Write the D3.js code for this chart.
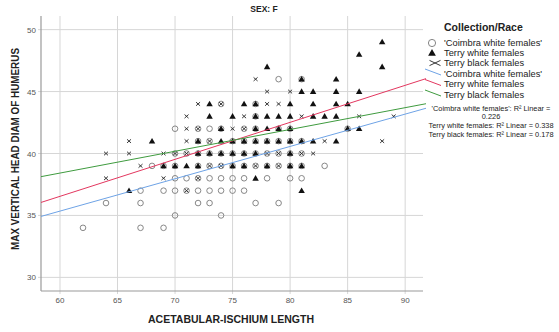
<!DOCTYPE html>
<html>
<head>
<meta charset="utf-8">
<script src="https://cdn.jsdelivr.net/npm/d3@7"></script>
<style>
  body { margin: 0; background: #fff; }
  svg text { font-family: "Liberation Sans", Arial, sans-serif; }
</style>
</head>
<body>
<svg id="chart" width="559" height="332"></svg>
<script>
// tick labels
const xTicks = [60, 65, 70, 75, 80, 85, 90];
const yTicks = [30, 35, 40, 45, 50];

// 'Coimbra white females' (open circles)
const coimbra = [
  [62,34],[64,36],[67,37],[67,36],[67,34],[68,39],[69,39],[69,37],[69,34],
  [70,42],[70,40],[70,39],[70,38],[70,37],[70,35],[71,40],[71,38],[71,37],
  [72,42],[72,41],[72,40],[72,39],[72,38],[72,37],[72,36],
  [73,42],[73,41],[73,40],[73,39],[73,38],[73,37],[73,36],
  [74,44],[74,42],[74,40],[74,39],[74,38],[74,37],[74,35],
  [75,41],[75,40],[75,39],[75,38],[75,37],
  [76,42],[76,41],[76,40],[76,39],[76,38],[76,37],
  [77,44],[77,43],[77,42],[77,41],[77,40],[77,39],[77,36],
  [78,41],[78,40],[78,39],[78,38],
  [79,46],[79,42],[79,41],[79,40],[79,39],[79,36],
  [80,42],[80,41],[80,40],[80,39],[80,38],
  [81,46],[81,41],[81,40],[81,39],[81,38],[83,39],[85,42]
];

// Terry white females (filled triangles)
const terryWhite = [
  [66,37],[68,41],[69,39],[70,39],[71,39],[72,41],[72,40],[72,39],
  [73,44],[73,43],[73,40],[74,42],[74,41],[74,40],
  [75,43],[75,41],[75,40],[75,39],[76,44],[76,41],[76,40],[76,39],
  [77,44],[77,43],[77,42],[77,41],[77,40],[77,38],
  [78,47],[78,43],[78,42],[78,41],[78,39],[79,43],[79,42],[79,41],
  [80,44],[80,43],[80,42],[80,41],[80,40],[80,39],
  [81,46],[81,45],[81,41],[81,39],[81,37],[82,45],[82,44],[82,43],[82,41],
  [83,43],[84,46],[84,45],[84,44],[84,43],[84,41],[85,44],[85,42],
  [86,48],[86,45],[86,42],[88,49],[88,47]
];

// Terry black females (crosses)
const terryBlack = [
  [64,40],[64,38],[66,41],[66,40],[67,39],[69,40],[69,38],[70,40],
  [71,43],[71,42],[71,41],[71,40],[71,37],[72,44],[72,42],[72,38],
  [73,41],[73,39],[74,44],[74,39],[75,42],[76,43],[76,42],[77,46],[77,39],
  [78,45],[78,44],[78,40],[79,44],[79,40],[79,39],[80,45],[81,43],[81,40],
  [82,40],[83,41],[86,43],[88,41],[89,43]
];

// fit lines: [intercept, slope]
const fitNames = ["'Coimbra white females'", "Terry white females", "Terry black females"];
const fitCoef = [[19.69, 0.261], [18.62, 0.2987], [27.86, 0.176]];
const fitColors = ["#6ea3e6", "#e3375f", "#3f9b3f"];
const r2Labels = [
  ["'Coimbra white females': R² Linear =", "0.226"],
  ["Terry white females: R² Linear = 0.338"],
  ["Terry black females: R² Linear = 0.178"]
];

const svg = d3.select("#chart");
const plotLeft = 41, plotRight = 423, plotTop = 16, plotBottom = 291;

const x = d3.scaleLinear().domain([58.35, 91.55]).range([plotLeft, plotRight]);
const y = d3.scaleLinear().domain([28.9, 51.1]).range([plotBottom, plotTop]);

// grid
svg.append("g").selectAll("line").data(xTicks).enter().append("line")
   .attr("x1", d => x(d)).attr("x2", d => x(d))
   .attr("y1", plotTop).attr("y2", plotBottom + 3)
   .attr("stroke", "#d6d6d6").attr("stroke-width", 1);
svg.append("g").selectAll("line").data(yTicks).enter().append("line")
   .attr("x1", plotLeft - 3).attr("x2", plotRight)
   .attr("y1", d => y(d)).attr("y2", d => y(d))
   .attr("stroke", "#d6d6d6").attr("stroke-width", 1);

// axes
svg.append("line").attr("x1", plotLeft).attr("x2", plotLeft).attr("y1", plotTop).attr("y2", plotBottom)
   .attr("stroke", "#9a9a9a").attr("stroke-width", 1.2);
svg.append("line").attr("x1", plotLeft).attr("x2", plotRight).attr("y1", plotBottom).attr("y2", plotBottom)
   .attr("stroke", "#9a9a9a").attr("stroke-width", 1.2);

svg.append("g").selectAll("text").data(xTicks).enter().append("text")
   .attr("x", d => x(d)).attr("y", 303)
   .attr("text-anchor", "middle").attr("font-size", "8px").attr("fill", "#555")
   .text(d => d);
svg.append("g").selectAll("text").data(yTicks).enter().append("text")
   .attr("x", 36).attr("y", d => y(d) + 3)
   .attr("text-anchor", "end").attr("font-size", "8px").attr("fill", "#555")
   .text(d => d);

// titles
svg.append("text").attr("x", 264).attr("y", 12).attr("text-anchor", "middle")
   .attr("font-size", "8.5px").attr("font-weight", "bold").attr("fill", "#222").text("SEX: F");
svg.append("text").attr("x", 231).attr("y", 323).attr("text-anchor", "middle")
   .attr("font-size", "11px").attr("font-weight", "bold").attr("fill", "#222")
   .attr("textLength", 166).attr("lengthAdjust", "spacingAndGlyphs")
   .text("ACETABULAR-ISCHIUM LENGTH");
svg.append("text").attr("transform", "translate(19,149) rotate(-90)").attr("text-anchor", "middle")
   .attr("font-size", "11px").attr("font-weight", "bold").attr("fill", "#222")
   .attr("textLength", 202).attr("lengthAdjust", "spacingAndGlyphs")
   .text("MAX VERTICAL HEAD DIAM OF HUMERUS");

// markers
const plot = svg.append("g");
plot.selectAll(".c").data(coimbra).enter().append("circle")
    .attr("cx", d => x(d[0])).attr("cy", d => y(d[1])).attr("r", 2.8)
    .attr("fill", "none").attr("stroke", "#7a7a7a").attr("stroke-width", 0.9);

const tri = d3.symbol().type(d3.symbolTriangle).size(18);
plot.selectAll(".t").data(terryWhite).enter().append("path")
    .attr("d", tri).attr("transform", d => `translate(${x(d[0])},${y(d[1]) + 0.5})`)
    .attr("fill", "#111");

plot.selectAll(".x").data(terryBlack).enter().append("path")
    .attr("d", "M-2,-1.8L2,1.8M-2,1.8L2,-1.8")
    .attr("transform", d => `translate(${x(d[0])},${y(d[1])})`)
    .attr("stroke", "#222").attr("stroke-width", 0.9).attr("fill", "none");

// fit lines
const x0 = x.domain()[0], x1 = x.invert(426);
svg.append("g").selectAll("line").data(fitCoef).enter().append("line")
   .attr("x1", x(x0)).attr("y1", d => y(d[0] + d[1] * x0))
   .attr("x2", x(x1)).attr("y2", d => y(d[0] + d[1] * x1))
   .attr("stroke", (d, i) => fitColors[i]).attr("stroke-width", 1);

// legend
const lg = svg.append("g");
lg.append("text").attr("x", 444).attr("y", 31).attr("font-size", "10.5px")
  .attr("font-weight", "bold").attr("fill", "#222").text("Collection/Race");

const markerNames = ["'Coimbra white females'", "Terry white females", "Terry black females"];
const rowY = [43, 53, 63, 73.5, 84, 94.5];
lg.selectAll(".lt").data(markerNames.concat(fitNames)).enter().append("text")
  .attr("x", 444).attr("y", (d, i) => rowY[i] + 3.3)
  .attr("font-size", "9.3px").attr("fill", "#222").text(d => d);

lg.append("circle").attr("cx", 432).attr("cy", rowY[0]).attr("r", 3.6)
  .attr("fill", "none").attr("stroke", "#777").attr("stroke-width", 0.9);
lg.append("path").attr("d", d3.symbol().type(d3.symbolTriangle).size(26))
  .attr("transform", `translate(432,${rowY[1] + 0.5})`).attr("fill", "#111");
lg.append("path").attr("d", "M-5.5,-2.6L5.5,2.6M-5.5,2.6L5.5,-2.6")
  .attr("transform", `translate(435,${rowY[2]})`).attr("stroke", "#222")
  .attr("stroke-width", 0.9).attr("fill", "none");
lg.selectAll(".ll").data(fitColors).enter().append("line")
  .attr("x1", 425).attr("x2", 441)
  .attr("y1", (d, i) => rowY[i + 3] - 4.5).attr("y2", (d, i) => rowY[i + 3] + 1.5)
  .attr("stroke", d => d).attr("stroke-width", 1);

const r2Lines = r2Labels.flat();
const r2Y = [110.5, 119, 127.5, 136.5];
lg.selectAll(".r2").data(r2Lines).enter().append("text")
  .attr("x", 491).attr("y", (d, i) => r2Y[i]).attr("text-anchor", "middle")
  .attr("font-size", "7.4px").attr("fill", "#222")
  .text(d => d);
</script>
</body>
</html>
